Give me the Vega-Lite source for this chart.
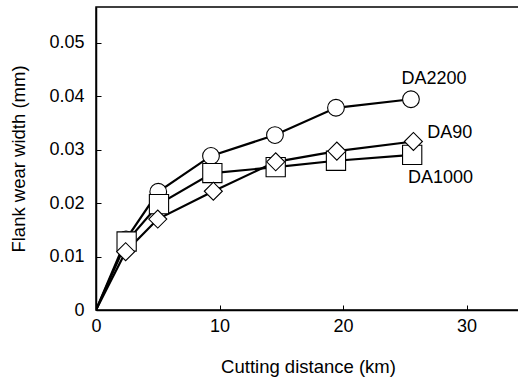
{
  "$schema": "https://vega.github.io/schema/vega-lite/v6.json",
  "autosize": {"type": "none"},
  "width": 424,
  "height": 303,
  "padding": {"left": 96, "top": 7, "right": 0, "bottom": 68},
  "background": "white",
  "config": {
    "font": "Liberation Sans",
    "view": {"stroke": "black", "strokeWidth": 1.5},
    "axis": {
      "grid": false,
      "domainColor": "black",
      "domainWidth": 1.5,
      "tickColor": "black",
      "tickWidth": 1,
      "tickSize": -5,
      "labelFont": "Liberation Sans",
      "labelFontSize": 18,
      "labelColor": "black",
      "titleFont": "Liberation Sans",
      "titleFontSize": 18.5,
      "titleFontWeight": "normal",
      "titleColor": "black"
    }
  },
  "datasets": {
    "wear": [
      {"series": "DA2200", "x": 0, "y": 0},
      {"series": "DA2200", "x": 2.43, "y": 0.0132},
      {"series": "DA2200", "x": 5.04, "y": 0.0221},
      {"series": "DA2200", "x": 9.31, "y": 0.0288},
      {"series": "DA2200", "x": 14.49, "y": 0.0327},
      {"series": "DA2200", "x": 19.43, "y": 0.0378},
      {"series": "DA2200", "x": 25.5, "y": 0.0394},
      {"series": "DA1000", "x": 0, "y": 0},
      {"series": "DA1000", "x": 2.48, "y": 0.0128},
      {"series": "DA1000", "x": 5.1, "y": 0.0198},
      {"series": "DA1000", "x": 9.42, "y": 0.0256},
      {"series": "DA1000", "x": 14.55, "y": 0.0267},
      {"series": "DA1000", "x": 19.43, "y": 0.0279},
      {"series": "DA1000", "x": 25.6, "y": 0.029},
      {"series": "DA90", "x": 0, "y": 0},
      {"series": "DA90", "x": 2.4, "y": 0.0109},
      {"series": "DA90", "x": 5.0, "y": 0.017},
      {"series": "DA90", "x": 9.5, "y": 0.0222},
      {"series": "DA90", "x": 14.55, "y": 0.0277},
      {"series": "DA90", "x": 19.5, "y": 0.0297},
      {"series": "DA90", "x": 25.7, "y": 0.0315}
    ],
    "labels": [
      {"label": "DA2200", "x": 27.37, "y": 0.0432},
      {"label": "DA90", "x": 28.64, "y": 0.0331},
      {"label": "DA1000", "x": 27.89, "y": 0.0246}
    ]
  },
  "layer": [
    {
      "data": {"name": "wear"},
      "mark": {"type": "line", "color": "black", "clip": true},
      "encoding": {
        "x": {
          "field": "x", "type": "quantitative",
          "scale": {"domain": [0, 34.33], "nice": false, "zero": false},
          "axis": {"values": [0, 10, 20, 30], "title": "Cutting distance (km)", "labelPadding": 12, "titlePadding": 22, "labelFlush": false}
        },
        "y": {
          "field": "y", "type": "quantitative",
          "scale": {"domain": [0, 0.05664], "nice": false, "zero": false},
          "axis": {"values": [0, 0.01, 0.02, 0.03, 0.04, 0.05], "labelExpr": "datum.value === 0 ? '0' : format(datum.value, '.2f')", "title": "Flank wear width (mm)", "labelPadding": 17, "titlePadding": 20, "labelFlush": false}
        },
        "detail": {"field": "series"},
        "strokeWidth": {"field": "series", "type": "nominal", "scale": {"domain": ["DA2200", "DA90", "DA1000"], "range": [2.2, 2.2, 3.4]}, "legend": null}
      }
    },
    {
      "data": {"name": "wear"},
      "transform": [{"filter": "datum.x > 0"}],
      "mark": {"type": "point", "filled": true, "fill": "white", "stroke": "black", "strokeWidth": 1.1, "opacity": 1},
      "encoding": {
        "x": {"field": "x", "type": "quantitative"},
        "y": {"field": "y", "type": "quantitative"},
        "shape": {"field": "series", "type": "nominal", "scale": {"domain": ["DA2200", "DA90", "DA1000"], "range": ["circle", "diamond", "square"]}, "legend": null},
        "size": {"field": "series", "type": "nominal", "scale": {"domain": ["DA2200", "DA90", "DA1000"], "range": [280, 370, 225]}, "legend": null}
      }
    },
    {
      "data": {"name": "labels"},
      "mark": {"type": "text", "font": "Liberation Sans", "fontSize": 18, "color": "black", "align": "center", "baseline": "middle"},
      "encoding": {
        "x": {"field": "x", "type": "quantitative"},
        "y": {"field": "y", "type": "quantitative"},
        "text": {"field": "label"}
      }
    }
  ]
}
